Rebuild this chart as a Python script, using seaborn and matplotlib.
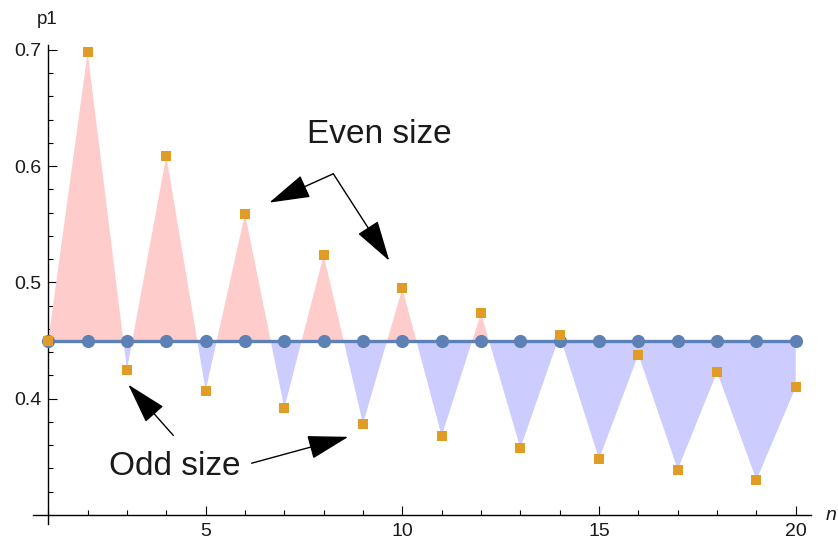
import matplotlib
matplotlib.use("Agg")
import matplotlib.pyplot as plt
import seaborn as sns
import numpy as np
from matplotlib.ticker import FixedLocator, MultipleLocator

# ---- data ----
n = list(range(1, 21))
p1 = [0.450, 0.698, 0.425, 0.609, 0.407, 0.559, 0.392, 0.5235, 0.3785, 0.495,
      0.368, 0.4735, 0.3575, 0.4545, 0.348, 0.438, 0.339, 0.423, 0.330, 0.410]
baseline = [0.45] * 20
x_major = [5, 10, 15, 20]
y_major = [0.4, 0.5, 0.6, 0.7]

sns.set_style("white")
plt.rcParams["font.family"] = ["Liberation Sans", "DejaVu Sans"]

BLUE = "#5E81B5"
ORANGE = "#E09C24"
PINK = "#FFCCCC"
LAV = "#CCCCFF"
TXT = "#1a1a1a"

fig = plt.figure(figsize=(8.38, 5.44), dpi=100)
ax = fig.add_axes([33.3 / 838, 20 / 544, 777.4 / 838, 478.9 / 544])

xa = np.array(n, dtype=float)
ya = np.array(p1)
ba = np.array(baseline)
ax.fill_between(xa, ba, ya, where=ya >= ba, interpolate=True, color=PINK, lw=0, zorder=1)
ax.fill_between(xa, ba, ya, where=ya <= ba, interpolate=True, color=LAV, lw=0, zorder=1)

sns.lineplot(x=n, y=baseline, ax=ax, color=BLUE, linewidth=2.4, marker="o",
             markersize=9.5, markeredgewidth=0, zorder=3)
sns.scatterplot(x=n, y=p1, ax=ax, marker="s", s=44, color=ORANGE, linewidth=0,
                edgecolor=None, zorder=5)

ax.set_xlim(0.619, 20.38)
ax.set_ylim(0.2922, 0.7042)

for s in ["top", "right"]:
    ax.spines[s].set_visible(False)
ax.spines["left"].set_position(("data", 1))
ax.spines["bottom"].set_position(("data", 0.3))
for s in ["left", "bottom"]:
    ax.spines[s].set_color("black")
    ax.spines[s].set_linewidth(1.0)

ax.xaxis.set_major_locator(FixedLocator(x_major))
ax.xaxis.set_minor_locator(MultipleLocator(1))
ax.yaxis.set_major_locator(FixedLocator(y_major))
ax.yaxis.set_minor_locator(MultipleLocator(0.02))
ax.tick_params(which="both", bottom=True, left=True, top=False, right=False)
ax.tick_params(which="major", direction="in", length=6.5, width=0.8, color="black",
               labelsize=14, labelcolor=TXT)
ax.tick_params(which="minor", direction="in", length=3.6, width=0.8, color="black")
ax.tick_params(axis="y", which="major", pad=5)
ax.tick_params(axis="x", which="major", pad=6)
ax.set_xlabel("")
ax.set_ylabel("")

fig.text(47.5 / 838, 1 - 20 / 544, "p1", ha="center", va="center", fontsize=13.5, color=TXT)
fig.text(837 / 838, 1 - 516 / 544, "n", ha="right", va="center", fontsize=14,
         style="italic", color=TXT)

ax.text(9.41, 0.6204, "Even size", ha="center", va="baseline", fontsize=24, color=TXT)
ax.text(4.22, 0.3344, "Odd size", ha="center", va="baseline", fontsize=24, color=TXT)

aprops = dict(arrowstyle="-|>,head_length=1.3,head_width=0.38", mutation_scale=20,
              lw=1.0, color="black", shrinkA=0, shrinkB=0)
ax.annotate("", xy=(6.618, 0.5687), xytext=(8.245, 0.5935), arrowprops=aprops)
ax.annotate("", xy=(9.668, 0.5187), xytext=(8.245, 0.5935), arrowprops=aprops)
ax.annotate("", xy=(3.034, 0.4121), xytext=(4.178, 0.3684), arrowprops=aprops)
ax.annotate("", xy=(8.626, 0.3672), xytext=(6.17, 0.3445), arrowprops=aprops)

fig.savefig("out.png", dpi=100)
